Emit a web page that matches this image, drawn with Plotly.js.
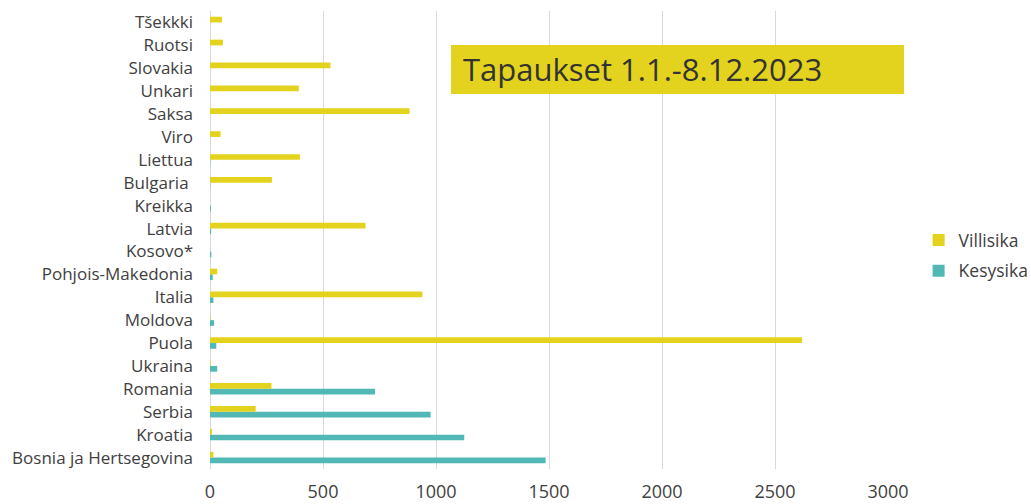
<!DOCTYPE html>
<html>
<head>
<meta charset="utf-8">
<script src="https://cdn.plot.ly/plotly-3.0.1.min.js"></script>
<style>html,body{margin:0;padding:0;background:#fff;}#chart{width:1031px;height:504px;}</style>
</head>
<body>
<div id="chart"></div>
<script>
var categories = ["Bosnia ja Hertsegovina","Kroatia","Serbia","Romania","Ukraina","Puola","Moldova","Italia","Pohjois-Makedonia","Kosovo*","Latvia","Kreikka","Bulgaria\u00a0","Liettua","Viro","Saksa","Unkari","Slovakia","Ruotsi","Tšekkki"];
var villisika = [15, 9, 202, 272, 3, 2620, 2, 940, 32, 0, 688, 0, 274, 398, 47, 883, 393, 533, 57, 53];
var kesysika = [1485, 1125, 976, 730, 32, 28, 18, 15, 12, 6, 5, 4, 1, 1, 0, 0, 0, 0, 0, 0];
var seriesNames = ["Villisika", "Kesysika"];
var xTicks = [0, 500, 1000, 1500, 2000, 2500, 3000];
var titleText = "Tapaukset 1.1.-8.12.2023";

var FONT = "Open Sans, sans-serif";
var traces = [
  {type:"bar", orientation:"h", name:seriesNames[1], y:categories, x:kesysika,
   marker:{color:"#52B8B5"}, legendrank:2, legendgroup:"b", hoverinfo:"x+name"},
  {type:"bar", orientation:"h", name:seriesNames[0], y:categories, x:villisika,
   marker:{color:"#E3D31E"}, legendrank:1, legendgroup:"a", hoverinfo:"x+name"}
];
var layout = {
  width:1031, height:504,
  margin:{l:210, r:143, t:11, b:35, autoexpand:false},
  paper_bgcolor:"#fff", plot_bgcolor:"#fff",
  barmode:"group", bargap:0.5, bargroupgap:0,
  font:{family:FONT, size:17, color:"#404040"},
  xaxis:{range:[0,3000], tickvals:xTicks, ticktext:xTicks.map(String),
         showgrid:true, gridcolor:"#D9D9D9", gridwidth:1,
         zeroline:true, zerolinecolor:"#D9D9D9", zerolinewidth:1,
         showline:false, ticks:"", ticklabelstandoff:10, automargin:false,
         tickfont:{family:FONT, size:18, color:"#404040"}, fixedrange:true},
  yaxis:{type:"category", showgrid:false, zeroline:false, showline:false,
         ticks:"", ticklabelstandoff:16, automargin:false,
         tickfont:{family:FONT, size:17, color:"#404040"}, fixedrange:true},
  showlegend:true,
  legend:{xref:"container", yref:"container", x:0.891, y:0.493, xanchor:"left", yanchor:"middle",
          traceorder:"grouped", tracegroupgap:5,
          font:{family:FONT, size:17.5, color:"#404040"}, itemwidth:30, bgcolor:"rgba(0,0,0,0)"},
  shapes:[{type:"rect", xref:"paper", yref:"paper", x0:0.3555, x1:1.0236, y0:0.8188, y1:0.9258,
           fillcolor:"#E3D31E", line:{width:0}, layer:"above"}],
  annotations:[{
    text:titleText, xref:"paper", yref:"paper", x:0.3702, y:0.8723,
    xanchor:"left", yanchor:"middle", showarrow:false, align:"left",
    font:{family:FONT, size:31, color:"#333333"}
  }]
};
Plotly.newPlot("chart", traces, layout, {displayModeBar:false, staticPlot:true});
</script>
</body>
</html>
